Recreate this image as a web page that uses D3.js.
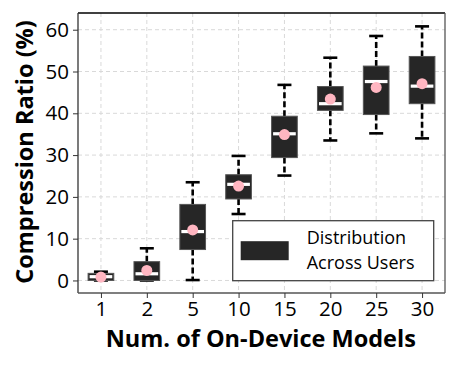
<!DOCTYPE html>
<html>
<head>
<meta charset="utf-8">
<script src="https://cdn.jsdelivr.net/npm/d3@7"></script>
<style>
	body { margin: 0; background: #fff; }
	svg text { font-family: 'Open Sans', sans-serif; }
</style>
</head>
<body>
<div id="chart"></div>
<script>
// categories and per-user distribution stats
var models = ['1', '2', '5', '10', '15', '20', '25', '30'];
var whiskerLow = [0, 0, 0.1, 15.9, 25.1, 33.5, 35.2, 34.0];
var q1 = [0, 0, 7.4, 19.5, 29.4, 40.7, 39.7, 42.3];
var median = [0.9, 1.6, 11.7, 23.0, 35.1, 42.3, 47.6, 46.5];
var q3 = [1.7, 4.5, 18.2, 25.3, 39.3, 46.4, 51.3, 53.6];
var whiskerHigh = [2.1, 7.7, 23.5, 29.8, 46.8, 53.3, 58.5, 60.8];
var means = [0.8, 2.4, 12.1, 22.6, 34.9, 43.4, 46.2, 47.1];
var yTicks = [0, 10, 20, 30, 40, 50, 60];

var w = 459,
	h = 367;

var margin = { top: 13, right: 14, bottom: 74, left: 78 },
	width = w - margin.left - margin.right,
	height = h - margin.top - margin.bottom;

var xScale = d3.scalePoint().domain(models).range([ 0, width ]).padding(0.5);
var yScale = d3.scaleLinear().domain([ -3, 64 ]).range([ height, 0 ]);

var svg = d3
	.select('#chart')
	.append('svg')
	.attr('width', w)
	.attr('height', h)
	.append('g')
	.attr('transform', 'translate(' + margin.left + ',' + margin.top + ')');

// grid
svg.selectAll('.hgrid').data(yTicks).enter().append('line')
	.attr('x1', 0).attr('x2', width)
	.attr('y1', function(d) { return yScale(d); })
	.attr('y2', function(d) { return yScale(d); })
	.attr('stroke', '#d9d9d9').attr('stroke-width', 1).attr('stroke-dasharray', '4,3');

svg.selectAll('.vgrid').data(models).enter().append('line')
	.attr('y1', 0).attr('y2', height)
	.attr('x1', function(d) { return xScale(d); })
	.attr('x2', function(d) { return xScale(d); })
	.attr('stroke', '#d9d9d9').attr('stroke-width', 1).attr('stroke-dasharray', '4,3');

// boxes
var stats = models.map(function(m, i) {
	return { m: m, lo: whiskerLow[i], q1: q1[i], med: median[i], q3: q3[i], hi: whiskerHigh[i], mean: means[i] };
});

var boxW = xScale.step() * 0.56,
	capW = 14;

var g = svg.selectAll('.box').data(stats).enter().append('g')
	.attr('class', 'box')
	.attr('transform', function(d) { return 'translate(' + xScale(d.m) + ',0)'; });

// whiskers
g.append('line')
	.attr('x1', 0).attr('x2', 0)
	.attr('y1', function(d) { return yScale(d.q3); })
	.attr('y2', function(d) { return yScale(d.hi); })
	.attr('stroke', '#000').attr('stroke-width', 2.6).attr('stroke-dasharray', '6,3');
g.append('line')
	.attr('x1', 0).attr('x2', 0)
	.attr('y1', function(d) { return yScale(d.q1); })
	.attr('y2', function(d) { return yScale(d.lo); })
	.attr('stroke', '#000').attr('stroke-width', 2.6).attr('stroke-dasharray', '6,3');
g.selectAll('.cap').data(function(d) { return [ d.lo, d.hi ]; }).enter().append('line')
	.attr('x1', -capW / 2).attr('x2', capW / 2)
	.attr('y1', function(v) { return yScale(v); })
	.attr('y2', function(v) { return yScale(v); })
	.attr('stroke', '#000').attr('stroke-width', 2.6);

g.append('rect')
	.attr('x', -boxW / 2).attr('width', boxW)
	.attr('y', function(d) { return yScale(d.q3); })
	.attr('height', function(d) { return yScale(d.q1) - yScale(d.q3); })
	.attr('fill', '#262626').attr('stroke', '#555').attr('stroke-width', 1);

g.append('line')
	.attr('x1', -boxW / 2 + 1.5).attr('x2', boxW / 2 - 1.5)
	.attr('y1', function(d) { return yScale(d.med); })
	.attr('y2', function(d) { return yScale(d.med); })
	.attr('stroke', '#fff').attr('stroke-width', 3.2);

g.append('circle')
	.attr('cx', 0)
	.attr('cy', function(d) { return yScale(d.mean); })
	.attr('r', 5.5)
	.attr('fill', '#ffb6c1');

// frame
svg.append('line').attr('x1', 0).attr('x2', width).attr('y1', 0).attr('y2', 0).attr('stroke', '#000').attr('stroke-width', 1.3);
svg.append('line').attr('x1', 0).attr('x2', 0).attr('y1', 0).attr('y2', height).attr('stroke', '#333').attr('stroke-width', 1.3);
svg.append('line').attr('x1', width).attr('x2', width).attr('y1', 0).attr('y2', height).attr('stroke', '#555').attr('stroke-width', 1.3);
svg.append('line').attr('x1', 0).attr('x2', width).attr('y1', height).attr('y2', height).attr('stroke', '#555').attr('stroke-width', 1.3);

// axes
var xAxis = svg.append('g')
	.attr('transform', 'translate(0,' + height + ')')
	.call(d3.axisBottom(xScale).tickSize(5).tickPadding(3));
var yAxis = svg.append('g')
	.call(d3.axisLeft(yScale).tickValues(yTicks).tickSize(5).tickPadding(4));
[ xAxis, yAxis ].forEach(function(a) {
	a.select('.domain').remove();
	a.selectAll('.tick line').attr('stroke', '#333').attr('stroke-width', 1);
	a.selectAll('.tick text').attr('font-size', 20.5).attr('fill', '#000').style('font-family', "'Open Sans', sans-serif");
});

// labels
svg.append('text')
	.attr('x', 260.8 - margin.left)
	.attr('y', 347 - margin.top)
	.attr('text-anchor', 'middle')
	.attr('font-size', 23.5).attr('font-weight', 'bold')
	.text('Num. of On-Device Models');

svg.append('text')
	.attr('transform', 'translate(' + (33 - margin.left) + ',' + (152 - margin.top) + ') rotate(-90)')
	.attr('text-anchor', 'middle')
	.attr('font-size', 23.5).attr('font-weight', 'bold')
	.text('Compression Ratio (%)');

// legend
var lx = 232.7 - margin.left,
	ly = 220.7 - margin.top;
var legend = svg.append('g').attr('transform', 'translate(' + lx + ',' + ly + ')');
legend.append('rect')
	.attr('width', 201).attr('height', 60)
	.attr('fill', '#fff').attr('stroke', '#444').attr('stroke-width', 1.3);
legend.append('rect')
	.attr('x', 8).attr('y', 20.5).attr('width', 48).attr('height', 19)
	.attr('fill', '#262626');
legend.append('text').attr('x', 74).attr('y', 23.5).attr('font-size', 18).text('Distribution');
legend.append('text').attr('x', 74).attr('y', 48).attr('font-size', 18).text('Across Users');
</script>
</body>
</html>
